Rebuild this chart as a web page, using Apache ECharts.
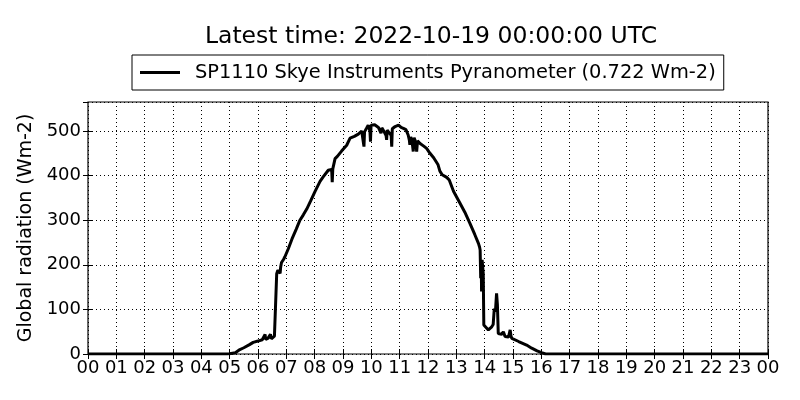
<!DOCTYPE html>
<html>
<head>
<meta charset="utf-8">
<script src="https://cdn.jsdelivr.net/npm/echarts@6/dist/echarts.min.js"></script>
<style>html,body{margin:0;padding:0;background:#fff}#c{width:800px;height:400px}</style>
</head>
<body>
<div id="c"></div>
<script>
const titleText = 'Latest time: 2022-10-19 00:00:00 UTC';
const seriesName = 'SP1110 Skye Instruments Pyranometer (0.722 Wm-2)';
const yAxisName = 'Global radiation (Wm-2)';
const hourLabels = ['00','01','02','03','04','05','06','07','08','09','10','11','12','13','14','15','16','17','18','19','20','21','22','23','00'];
const hours = [0, 4.9, 5.0, 5.2, 5.36, 5.5, 5.7, 5.83, 6.0, 6.15, 6.22, 6.25, 6.27, 6.35, 6.42, 6.44, 6.47, 6.54, 6.58, 6.62, 6.66, 6.7, 6.75, 6.78, 6.8, 6.83, 6.9, 6.95, 7.0, 7.07, 7.2, 7.35, 7.48, 7.6, 7.72, 7.85, 8.01, 8.19, 8.3, 8.48, 8.6, 8.62, 8.64, 8.72, 8.8, 8.95, 9.13, 9.25, 9.4, 9.54, 9.66, 9.72, 9.74, 9.76, 9.83, 9.89, 9.95, 9.97, 9.99, 10.05, 10.12, 10.19, 10.25, 10.31, 10.34, 10.37, 10.42, 10.48, 10.52, 10.54, 10.56, 10.62, 10.66, 10.7, 10.72, 10.74, 10.8, 10.84, 10.96, 11.05, 11.13, 11.22, 11.3, 11.34, 11.36, 11.39, 11.44, 11.48, 11.51, 11.54, 11.58, 11.6, 11.63, 11.72, 11.85, 11.95, 12.07, 12.2, 12.35, 12.42, 12.5, 12.66, 12.75, 12.9, 13.13, 13.3, 13.48, 13.65, 13.78, 13.82, 13.84, 13.86, 13.88, 13.89, 13.91, 13.95, 13.97, 14.01, 14.13, 14.25, 14.3, 14.34, 14.38, 14.42, 14.45, 14.48, 14.6, 14.66, 14.72, 14.84, 14.88, 14.9, 14.93, 14.96, 15.2, 15.48, 15.66, 15.85, 16.01, 16.15, 24];
const radiation = [0, 0, 0.5, 3, 10, 14, 21, 26, 29, 32, 33, 44, 33, 35, 36, 44, 34, 36, 40, 110, 180, 188, 190, 181, 195, 205, 212, 218, 222, 236, 258, 280, 300, 312, 325, 342, 364, 387, 397, 412, 414, 385, 415, 438, 443, 455, 468, 484, 488, 493, 500, 498, 465, 498, 506, 513, 500, 476, 513, 510, 514, 517, 508, 506, 495, 507, 502, 504, 490, 480, 502, 497, 498, 490, 465, 505, 508, 510, 513, 508, 506, 503, 491, 480, 469, 487, 475, 454, 485, 480, 470, 454, 478, 472, 466, 461, 450, 440, 425, 410, 402, 396, 390, 365, 338, 318, 293, 268, 248, 240, 233, 170, 207, 140, 211, 180, 65, 62, 54, 61, 66, 102, 95, 136, 110, 46, 44, 50, 39, 38, 42, 54, 40, 35, 28, 20, 13, 7, 3, 0, 0];

const data = hours.map((h, i) => [h, radiation[i]]);
const FONT = 'DejaVu Sans';
const chart = echarts.init(document.getElementById('c'));
chart.setOption({
  animation: false,
  backgroundColor: '#fff',
  title: {
    text: titleText, left: 426, top: 20, textAlign: 'center',
    textStyle: { fontFamily: FONT, fontSize: 23.5, fontWeight: 'normal', color: '#000' }
  },
  legend: {
    data: [seriesName], left: 132, top: 55,
    borderColor: '#000', borderWidth: 1, borderRadius: 0,
    padding: [8, 8, 8, 8], itemWidth: 40, itemHeight: 3, icon: 'rect',
    itemStyle: { color: '#000' },
    textStyle: { fontFamily: FONT, fontSize: 19.4, color: '#000', padding: [0, 0, 0, 10] }
  },
  grid: { left: 88, right: 32, top: 102, bottom: 46, show: true, borderColor: '#000', borderWidth: 1.2 },
  xAxis: [{
    type: 'value', min: 0, max: 24, interval: 1,
    axisLine: { show: false },
    axisTick: { show: true, inside: true, length: 5, lineStyle: { color: '#000' } },
    axisLabel: { fontFamily: FONT, fontSize: 18, color: '#000', margin: 5, formatter: v => hourLabels[Math.round(v)] },
    splitLine: { show: true, lineStyle: { color: '#000', type: [1, 3], width: 1 } }
  }, {
    type: 'value', min: 0, max: 24, interval: 1, position: 'top',
    axisLine: { show: false }, axisLabel: { show: false }, splitLine: { show: false },
    axisTick: { show: true, inside: true, length: 5, lineStyle: { color: '#000' } }
  }],
  yAxis: [{
    type: 'value', min: 0, max: 565, interval: 100,
    name: yAxisName, nameLocation: 'middle', nameGap: 50, nameRotate: 90,
    nameTextStyle: { fontFamily: FONT, fontSize: 19, color: '#000' },
    axisLine: { show: false },
    axisTick: { show: true, inside: true, length: 5, lineStyle: { color: '#000' } },
    axisLabel: { fontFamily: FONT, fontSize: 18, color: '#000', margin: 7, showMaxLabel: false },
    splitLine: { show: true, lineStyle: { color: '#000', type: [1, 3], width: 1 } }
  }, {
    type: 'value', min: 0, max: 565, interval: 100, position: 'right',
    axisLine: { show: false }, axisLabel: { show: false }, splitLine: { show: false },
    axisTick: { show: true, inside: true, length: 5, lineStyle: { color: '#000' } }
  }],
  series: [{
    name: seriesName, type: 'line', data: data, symbol: 'none',
    lineStyle: { color: '#000', width: 3 }, itemStyle: { color: '#000' }
  }]
});
</script>
</body>
</html>
